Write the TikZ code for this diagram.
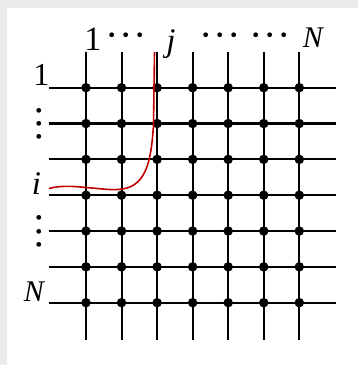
\documentclass[tikz,border=0pt]{standalone}
\usepackage{fontspec}
\setmainfont{Liberation Serif}
\definecolor{curvered}{HTML}{C00000}
\definecolor{framegray}{HTML}{EBEBEB}
\begin{document}
\begin{tikzpicture}[x=1pt,y=-1pt,
  gridline/.style={line width=2.1pt,black},
  dotnode/.style={circle,fill=black,inner sep=0pt,minimum size=9.5pt},
  lbl/.style={inner sep=0pt,anchor=base},
  hellip/.style={inner sep=0pt,anchor=base,font=\fontsize{40}{42}\selectfont},
  vellip/.style={inner sep=0pt,anchor=center,rotate=90,font=\fontsize{40}{42}\selectfont},
  redcurve/.style={line width=1.6pt,curvered}
]
\useasboundingbox (0,0) rectangle (358,365);
\fill[white] (0,0) rectangle (358,365);
\fill[framegray] (0,0) rectangle (358,8);
\fill[framegray] (0,0) rectangle (7,365);

\foreach \k in {1,...,7}{
  \pgfmathsetmacro\xx{86+(\k-1)*35.55}
  \pgfmathsetmacro\yy{87.7+(\k-1)*35.83}
  \coordinate (h\k w) at (49.3,\yy);
  \coordinate (h\k e) at (335.7,\yy);
  \coordinate (v\k n) at (\xx,51.7);
  \coordinate (v\k s) at (\xx,340);
}
\foreach \k in {1,...,7}{
  \draw[gridline] (h\k w) -- (h\k e);
  \draw[gridline] (v\k n) -- (v\k s);
}
\foreach \r in {1,...,7}{
  \foreach \c in {1,...,7}{
    \node[dotnode] (d\r-\c) at (v\c n |- h\r w) {};
  }
}

% red path
\coordinate (r0) at (49,188.5);
\coordinate (r1) at (86,187.5);
\coordinate (r2) at (118,189.5);
\coordinate (r3) at (153.5,125);
\coordinate (r4) at (154.5,52);
\draw[redcurve] (r0) .. controls (62,185) and (75,186.5) .. (r1)
  .. controls (100,188.5) and (108,190) .. (r2)
  .. controls (145,188) and (151,165) .. (r3) -- (r4);

% top labels
\node[lbl,font=\fontsize{34}{36}\selectfont] (t1) at (93,50.5) {1};
\node[hellip] (tdots1) at (126,48) {·\hspace{1pt}·\hspace{1pt}·};
\node[lbl,font=\fontsize{33}{35}\selectfont\itshape] (tj) at (171,51) {j};
\node[hellip] (tdots2) at (220,48) {·\hspace{1pt}·\hspace{1pt}·};
\node[hellip] (tdots3) at (270,48) {·\hspace{1pt}·\hspace{1pt}·};
\node[lbl,font=\fontsize{30}{32}\selectfont\itshape] (tN) at (313,47) {N};

% left labels
\node[lbl,font=\fontsize{32}{34}\selectfont] (l1) at (41.5,85) {1};
\node[vellip] (ldots1) at (44.5,124) {···};
\node[lbl,font=\fontsize{33}{35}\selectfont\itshape] (li) at (36.5,194.5) {i};
\node[vellip] (ldots2) at (44.5,231.5) {···};
\node[lbl,font=\fontsize{30}{32}\selectfont\itshape] (lN) at (34,301.7) {N};
\end{tikzpicture}
\end{document}
